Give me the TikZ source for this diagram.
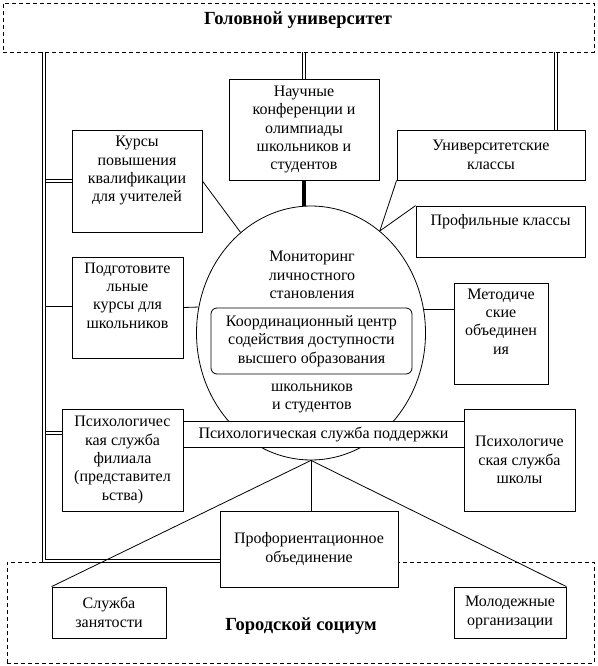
\documentclass[tikz,border=0pt]{standalone}
\usepackage{fontspec}
\setmainfont{Liberation Serif}
\usetikzlibrary{shapes.geometric}
\newcommand\bodytxt{\fontsize{16}{18.4}\selectfont}
\newcommand\headtxt{\fontsize{18.5}{21}\selectfont\bfseries}
\pgfdeclarelayer{bg}
\pgfsetlayers{bg,main}
\begin{document}
\begin{tikzpicture}[x=1pt,y=-1pt,
  box/.style={draw, line width=0.8pt, fill=white, rectangle, inner sep=0pt, align=center, font=\bodytxt},
  dashbox/.style={draw, line width=0.8pt, dash pattern=on 4pt off 3pt, rectangle, inner sep=0pt},
  dbl/.style={draw, double, double distance=2pt, line width=0.8pt},
  conn/.style={draw, line width=0.8pt},
  thickconn/.style={draw, line width=3.5pt},
  heading/.style={font=\headtxt, inner sep=0pt, anchor=base},
  plain/.style={align=center, font=\bodytxt, inner sep=0pt}
]
\useasboundingbox (0,0) rectangle (597,666);

% dashed frames
\node[dashbox, minimum width=591pt, minimum height=49pt] (top) at (298.5,27.5) {};
\node[heading] (toptitle) at (298,25) {Головной университет};
\node[dashbox, minimum width=587pt, minimum height=101pt] (bot) at (300.5,612.5) {};
\node[heading] (bottitle) at (301,630) {Городской социум};

% central ellipse
\node[draw, ellipse, line width=0.8pt, minimum width=229pt, minimum height=254pt, inner sep=0pt] (ell) at (311,333) {};
\node[plain] (mon) at (312,275) {Мониторинг\\личностного\\становления};
\node[box, rounded corners=6pt, minimum width=201pt, minimum height=66pt] (coord) at (311.5,341) {Координационный центр\\содействия доступности\\высшего образования};
\node[plain] (shktxt) at (312,398.5) {школьников\\и студентов};

% strip
\node[fill=white, minimum width=281pt, minimum height=25pt, inner sep=0pt, font=\bodytxt] (strip) at (323.5,434.5) {Психологическая служба поддержки};
\draw[conn] (strip.north west) -- (strip.north east) (strip.south west) -- (strip.south east);

% boxes
\node[box, minimum width=150pt, minimum height=101pt] (nauch) at (304,129.5) {Научные\\конференции и\\олимпиады\\школьников и\\студентов};
\node[box, minimum width=130pt, minimum height=102pt] (kursy) at (137,181) {Курсы\\повышения\\квалификации\\для учителей\\\strut};
\node[box, minimum width=188pt, minimum height=50pt] (univ) at (491,155) {Университетские\\классы};
\node[box, minimum width=169pt, minimum height=51pt] (prof) at (500.5,231.5) {Профильные классы\\\strut};
\node[box, minimum width=111pt, minimum height=101pt] (podg) at (127.5,307.5) {Подготовите\\льные\\курсы для\\школьников\\\strut};
\node[box, minimum width=94pt, minimum height=101pt] (metod) at (501,333.5) {Методиче\\ские\\объединен\\ия\\\strut};
\node[box, minimum width=121pt, minimum height=102pt] (fil) at (122.5,460) {Психологичес\\кая служба\\филиала\\(представител\\ьства)};
\node[box, minimum width=111pt, minimum height=102pt] (shkol) at (519.5,460) {Психологиче\\ская служба\\школы};
\node[box, minimum width=178pt, minimum height=76pt] (proforient) at (309,549) {Профориентационное\\объединение};
\node[box, minimum width=114pt, minimum height=51pt] (zan) at (109,612.5) {Служба\\занятости};
\node[box, minimum width=112pt, minimum height=51pt] (mol) at (510,612.5) {Молодежные\\организации};

% trunk coordinates
\coordinate (ltop) at (44,52);
\coordinate (lbot) at (44,561);
\coordinate (lfil) at (44,433);
\coordinate (rtop) at (556,52);

\begin{pgfonlayer}{bg}
  \draw[dbl] (ltop |- kursy.west) -- (kursy.west);
  \draw[dbl] (ltop |- podg.west) -- (podg.west);
  \draw[dbl] (lfil) -- (lfil -| fil.west);
  \draw[dbl] (ltop) -- (lbot) -- (lbot -| proforient.west);
  \draw[dbl] (rtop) -- (rtop |- univ.north);
  \draw[dbl] (top.south -| nauch.north) -- (nauch.north);
\end{pgfonlayer}

% connectors
\draw[thickconn] (nauch.south) -- (nauch.south |- ell.north);
\draw[conn] (kursy.east) -- (ell.125);
\draw[conn] (univ.south west) -- (ell.56);
\draw[conn] (prof.north west) -- (ell.56);
\draw[conn] (podg.east) -- (ell.167.2);
\draw[conn] (ell.12.8) -- (ell.12.8 -| metod.west);
\draw[conn] (ell.south) -- (ell.south |- proforient.north);
\draw[conn] (ell.south) -- (zan.north west);
\draw[conn] (ell.south) -- (mol.north east);
\end{tikzpicture}
\end{document}
